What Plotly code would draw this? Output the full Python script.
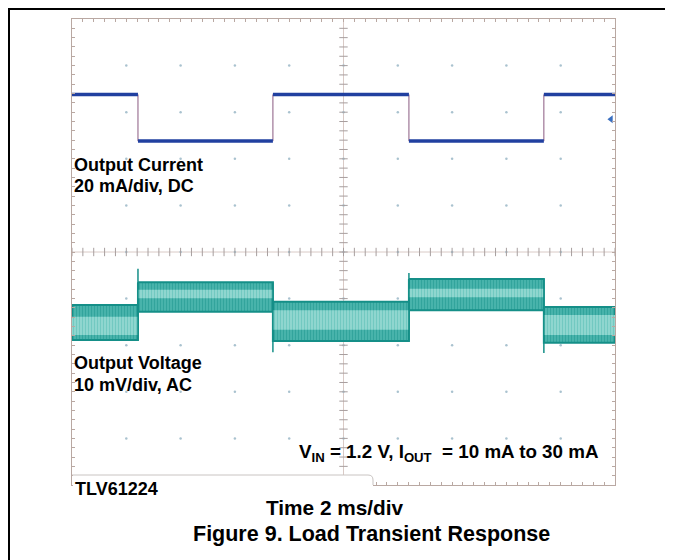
import plotly.graph_objects as go
import numpy as np

# ---------------- data ----------------
# time axis: 2 ms/div, 10 divisions
time_per_div_ms = 2.0
n_xdiv = 10
n_ydiv = 10
# load step edges (ms) and per-segment output current (mA)
seg_edges_ms = [0.0, 2.43, 7.40, 12.41, 17.38, 20.0]
current_mA = [30, 10, 30, 10, 30]
current_scale_mA_div = 20.0
current_offset_div = 1.88          # channel position on screen (div)
current_marker_div = 2.85          # channel reference arrow at right edge

# output voltage (AC coupled, mV) per segment: noise envelope and dense core
volt_scale_mV_div = 10.0
volt_offset_div = -1.25
v_band_top_mV = [1.1, 6.0, 1.8, 6.7, 0.7]
v_band_bot_mV = [-6.4, -0.3, -6.6, 0.0, -7.0]
v_core_top_mV = [-1.4, 4.4, 0.0, 4.6, -1.0]
v_core_bot_mV = [-5.3, 2.6, -4.2, 2.8, -5.3]
# transient spikes at each load edge (mV)
v_spike_mV = [8.9, -9.0, 8.0, -9.2]

TEAL_DARK = "#158f88"
TEAL_MID = "#2fa7a0"
TEAL_LIGHT = "#8fd6cf"
BLUE = "#2140a0"
GRID = "#b9a8a2"
DOT = "#a9c2cf"
FONT = "Liberation Sans, Arial, sans-serif"


def i_div(v):
    return v / current_scale_mA_div + current_offset_div


def v_div(v):
    return v / volt_scale_mV_div + volt_offset_div


fig = go.Figure()

# ---- grid dots and centre-line ticks ----
xr = n_xdiv * time_per_div_ms
gx, gy = [], []
for i in range(1, n_xdiv):
    for j in range(-n_ydiv // 2 + 1, n_ydiv // 2):
        gx.append(i * time_per_div_ms)
        gy.append(j)
fig.add_trace(go.Scatter(x=gx, y=gy, mode="markers",
                         marker=dict(size=2.5, color=DOT), hoverinfo="skip"))
tx = np.arange(0, xr + 1e-9, time_per_div_ms / 5)
fig.add_trace(go.Scatter(x=tx, y=[0] * len(tx), mode="markers",
                         marker=dict(symbol="line-ns", size=6,
                                     line=dict(color="#a79e9e", width=1)),
                         hoverinfo="skip"))
ty = np.arange(-5, 5 + 1e-9, 0.2)
fig.add_trace(go.Scatter(x=[xr / 2] * len(ty), y=ty, mode="markers",
                         marker=dict(symbol="line-ew", size=6,
                                     line=dict(color="#a79e9e", width=1)),
                         hoverinfo="skip"))


def polys(tops, bots):
    xs, ys = [], []
    for k in range(len(tops)):
        t0, t1 = seg_edges_ms[k], seg_edges_ms[k + 1]
        xs += [t0, t1, t1, t0, t0, None]
        ys += [v_div(tops[k]), v_div(tops[k]), v_div(bots[k]), v_div(bots[k]),
               v_div(tops[k]), None]
    return xs, ys


# ---- output voltage band ----
bx, by = polys(v_band_top_mV, v_band_bot_mV)
fig.add_trace(go.Scatter(x=bx, y=by, mode="lines", fill="toself",
                         fillcolor=TEAL_MID,
                         fillpattern=dict(shape="|", fgcolor=TEAL_DARK,
                                          bgcolor="#4fb8b0", size=3, solidity=0.5),
                         line=dict(color=TEAL_DARK, width=2),
                         hoverinfo="skip"))
cx, cy = polys(v_core_top_mV, v_core_bot_mV)
fig.add_trace(go.Scatter(x=cx, y=cy, mode="lines", fill="toself",
                         fillcolor=TEAL_LIGHT,
                         fillpattern=dict(shape="|", fgcolor="#55bcb4",
                                          bgcolor=TEAL_LIGHT, size=3, solidity=0.35),
                         line=dict(width=0), hoverinfo="skip"))
# transitions with spikes
sx, sy = [], []
for k, sp in enumerate(v_spike_mV):
    t = seg_edges_ms[k + 1]
    lo = min(v_band_bot_mV[k], v_band_bot_mV[k + 1], sp)
    hi = max(v_band_top_mV[k], v_band_top_mV[k + 1], sp)
    sx += [t, t, None]
    sy += [v_div(lo), v_div(hi), None]
fig.add_trace(go.Scatter(x=sx, y=sy, mode="lines",
                         line=dict(color=TEAL_DARK, width=1.5), hoverinfo="skip"))

# ---- output current ----
hx, hy = [], []
for k, c in enumerate(current_mA):
    hx += [seg_edges_ms[k], seg_edges_ms[k + 1], None]
    hy += [i_div(c), i_div(c), None]
vx, vy = [], []
for k in range(1, len(current_mA)):
    t = seg_edges_ms[k]
    vx += [t, t, None]
    vy += [i_div(current_mA[k - 1]), i_div(current_mA[k]), None]
fig.add_trace(go.Scatter(x=vx, y=vy, mode="lines",
                         line=dict(color="#8a5a80", width=1), hoverinfo="skip"))
fig.add_trace(go.Scatter(x=hx, y=hy, mode="lines",
                         line=dict(color=BLUE, width=3.5), hoverinfo="skip"))
fig.add_trace(go.Scatter(x=[xr * 0.9925], y=[current_marker_div], mode="markers",
                         marker=dict(symbol="triangle-left", size=7, color="#3a6fc0"),
                         cliponaxis=False, hoverinfo="skip"))

# ---------------- layout ----------------
# the page body adds an 8 px offset, so the figure is 8 px smaller and
# every reference-pixel position is shifted by that offset
OFF = 8
W, H = 673 - OFF, 560 - OFF
L, R, T, B = 72 - OFF, 615 - OFF, 19 - OFF, 485 - OFF
pw, ph = R - L, B - T


def px(xp):
    return (xp - OFF - L) / pw


def py(yp):
    return (B - (yp - OFF)) / ph


shapes = [
    # centre cross
    dict(type="line", xref="x", yref="paper", x0=xr / 2, x1=xr / 2, y0=0, y1=1,
         line=dict(color="#d9cac6", width=1), layer="below"),
    dict(type="line", xref="paper", yref="y", x0=0, x1=1, y0=0, y1=0,
         line=dict(color="#d9cac6", width=1), layer="below"),
    # TLV label tab over bottom-left of the screen
    dict(type="rect", xref="paper", yref="paper", x0=px(73), x1=px(373),
         y0=py(498), y1=py(475), fillcolor="white", line=dict(width=0), layer="above"),
    dict(type="path", xref="paper", yref="paper",
         path=f"M {px(72)},{py(475)} L {px(368)},{py(475)} "
              f"Q {px(373)},{py(475)} {px(373)},{py(480)} L {px(373)},{py(485)}",
         line=dict(color="#c9c4c2", width=1), layer="above"),
    # outer black frame
    dict(type="line", xref="paper", yref="paper", x0=px(8), x1=px(690),
         y0=py(9), y1=py(9), line=dict(color="black", width=2), layer="above"),
    dict(type="line", xref="paper", yref="paper", x0=px(9), x1=px(9),
         y0=py(8), y1=py(580), line=dict(color="black", width=2), layer="above"),
]

lab = dict(size=18, color="black", family=FONT)
bold = lambda s: f"<b>{s}</b>"
annotations = [
    dict(text=bold("Output Current"), x=px(72), y=py(165), xanchor="left", yanchor="middle", font=lab),
    dict(text=bold("20 mA/div, DC"), x=px(72), y=py(186), xanchor="left", yanchor="middle", font=lab),
    dict(text=bold("Output Voltage"), x=px(72), y=py(362.5), xanchor="left", yanchor="middle", font=lab),
    dict(text=bold("10 mV/div, AC"), x=px(72), y=py(384.5), xanchor="left", yanchor="middle", font=lab),
    dict(text=bold("V<sub>IN</sub> = 1.2 V, I<sub>OUT</sub>  = 10 mA to 30 mA"),
         x=px(297), y=py(453), xanchor="left", yanchor="middle",
         font=dict(size=18.8, color="black", family=FONT)),
    dict(text=bold("TLV61224"), x=px(73), y=py(489), xanchor="left", yanchor="middle", font=lab),
    dict(text=bold("Time 2 ms/div"), x=px(335), y=py(507.5), xanchor="center", yanchor="middle",
         font=dict(size=20.8, color="black", family=FONT)),
    dict(text=bold("Figure 9. Load Transient Response"), x=px(371.5), y=py(534), xanchor="center",
         yanchor="middle", font=dict(size=21.5, color="black", family=FONT)),
]
for a in annotations:
    a.update(xref="paper", yref="paper", showarrow=False)

axis_common = dict(showgrid=False, zeroline=False, showticklabels=False,
                   showline=True, linecolor=GRID, linewidth=1, mirror="ticks",
                   ticks="inside", ticklen=3, tickcolor=GRID, fixedrange=True)
fig.update_layout(
    width=W, height=H,
    margin=dict(l=L, r=W - R, t=T, b=H - B, pad=0),
    paper_bgcolor="white", plot_bgcolor="white",
    showlegend=False,
    xaxis=dict(range=[0, xr], dtick=time_per_div_ms / 5, **axis_common),
    yaxis=dict(range=[-5, 5], dtick=0.2, **axis_common),
    shapes=shapes, annotations=annotations,
)

fig.write_html("out.html")
